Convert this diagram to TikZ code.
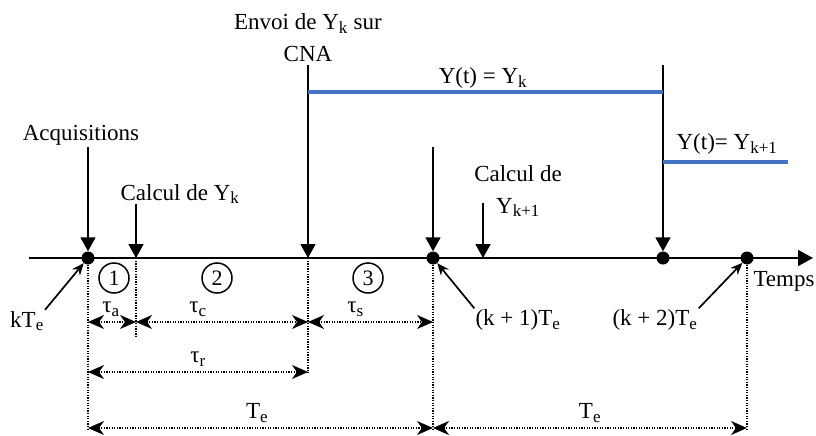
\documentclass[tikz,border=0pt]{standalone}
\usepackage{fontspec}
\setmainfont{Liberation Serif}
\usepackage{tikz}
\usetikzlibrary{positioning,arrows.meta,calc}
\definecolor{dacblue}{HTML}{4472C4}
\newcommand{\ind}[1]{\textsubscript{\fontsize{17}{17}\selectfont #1}}

\begin{document}
\begin{tikzpicture}[x=1pt, y=-1pt,
  txt/.style={font=\fontsize{23}{32}\selectfont, inner sep=1pt, align=center},
  lbl/.style={txt, above=4pt},
  dot/.style={circle, fill=black, minimum size=13pt, inner sep=0pt},
  num/.style={draw, circle, line width=1.5pt, minimum size=30pt, inner sep=0pt, font=\fontsize{22}{22}\selectfont},
  axis/.style={-{Triangle[length=15pt,width=16pt]}, line width=1.8pt},
  varr/.style={-{Triangle[length=14pt,width=15pt]}, line width=1.8pt},
  larr/.style={-{Stealth[length=12pt,width=10pt]}, line width=1.7pt},
  guide/.style={line width=1.4pt, dash pattern=on 1.3pt off 1.3pt},
  dim/.style={{Stealth[length=16pt,width=14pt,inset=5pt]}-{Stealth[length=16pt,width=14pt,inset=5pt]}, line width=1.3pt, dash pattern=on 1.3pt off 1.3pt},
  yline/.style={line width=3.5pt, draw=dacblue},
]
  \useasboundingbox (0,0) rectangle (816,436);

  % axe des temps
  \coordinate (o) at (29,258);
  \coordinate (e) at (813,258);
  \draw[axis] (o) -- (e);
  \node[txt] (temps) at (784,281) {Temps};

  % instants
  \node[dot] (p0) at (88,258) {};
  \coordinate (c1) at (136,258);
  \coordinate (c2) at (308,258);
  \node[dot] (p1) at (433,258) {};
  \coordinate (c3) at (483,258);
  \node[dot] (q1) at (663,258) {};
  \node[dot] (p2) at (747,258) {};

  % evenements
  \node[txt] (acq) at (81,135) {Acquisitions};
  \node[txt] (calc1) at (180,194) {Calcul de Y\ind{k}};
  \node[txt] (envoi) at (308,38) {Envoi de Y\ind{k} sur\\CNA};
  \node[txt] (calc2) at (518,191) {Calcul de\\Y\ind{k+1}};
  \coordinate (a0) at (88,147);
  \coordinate (a1) at (136,204);
  \coordinate (a2) at (308,65);
  \coordinate (a3) at (433,147);
  \coordinate (a4) at (483,203);
  \coordinate (a5) at (663,65);
  \draw[varr] (a0) -- (p0.north);
  \draw[varr] (a1) -- (c1);
  \draw[varr] (a2) -- (c2);
  \draw[varr] (a3) -- (p1.north);
  \draw[varr] (a4) -- (c3);
  \draw[varr] (a5) -- (q1.north);

  % sortie du CNA
  \coordinate (y1) at (0,92);
  \coordinate (y2) at (788,162);
  \draw[yline] (c2 |- y1) -- (q1 |- y1);
  \draw[yline] (q1 |- y2) -- (y2);
  \node[txt] (yk) at (483,78) {Y(t) = Y\ind{k}};
  \node[txt] (yk1) at (727,144) {Y(t)= Y\ind{k+1}};

  % phases
  \node[num] (n1) at (114,278) {1};
  \node[num] (n2) at (217,278) {2};
  \node[num] (n3) at (368,278) {3};

  % reperes
  \node[txt] (kte) at (27,321) {kT\ind{e}};
  \node[txt] (k1te) at (518,320) {(k + 1)T\ind{e}};
  \node[txt] (k2te) at (655,320) {(k + 2)T\ind{e}};
  \draw[larr] (kte.north east) -- (p0);
  \draw[larr] (k1te.north west) -- (p1);
  \draw[larr] (k2te.north east) -- (p2);

  % lignes de rappel
  \coordinate (b0) at (0,430);
  \coordinate (b1) at (0,337);
  \coordinate (b2) at (0,373);
  \draw[guide] (p0) -- (p0 |- b0);
  \draw[guide] (c1) -- (c1 |- b1);
  \draw[guide] (c2) -- (c2 |- b2);
  \draw[guide] (p1) -- (p1 |- b0);
  \draw[guide] (p2) -- (p2 |- b0);

  % durees
  \coordinate (r1) at (0,322);
  \coordinate (r2) at (0,372);
  \coordinate (r3) at (0,428);
  \draw[dim] (p0 |- r1) -- node[lbl, pos=.48] {τ\ind{a}} (c1 |- r1);
  \draw[dim] (c1 |- r1) -- node[lbl, pos=.36] {τ\ind{c}} (c2 |- r1);
  \draw[dim] (c2 |- r1) -- node[lbl, pos=.38] {τ\ind{s}} (p1 |- r1);
  \draw[dim] (p0 |- r2) -- node[lbl] {τ\ind{r}} (c2 |- r2);
  \draw[dim] (p0 |- r3) -- node[lbl, pos=.49] {T\ind{e}} (p1 |- r3);
  \draw[dim] (p1 |- r3) -- node[lbl] {T\ind{e}} (p2 |- r3);
\end{tikzpicture}
\end{document}
